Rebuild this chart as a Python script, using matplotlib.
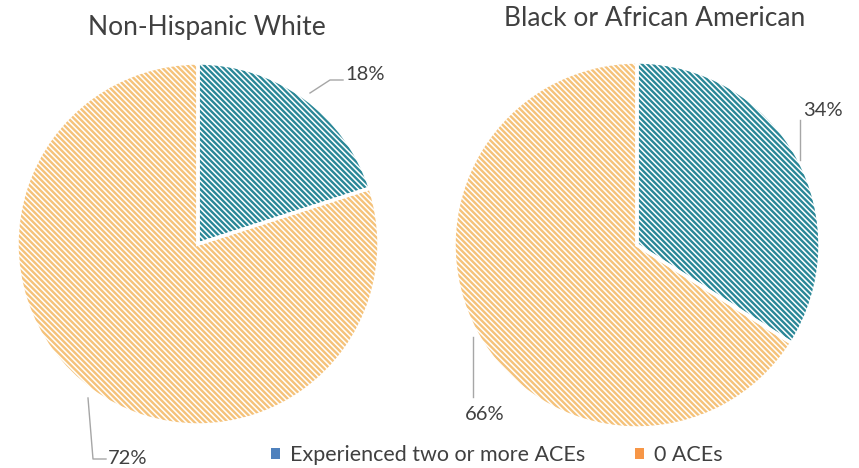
import matplotlib.pyplot as plt
from matplotlib.patches import Patch
from matplotlib.lines import Line2D

titles = ["Non-Hispanic White", "Black or African American"]
categories = ["Experienced two or more ACEs", "0 ACEs"]
white_vals = [18, 72]
black_vals = [34, 66]

hatch_cols = ["#2a8797", "#f5c27a"]
legend_cols = ["#4f81bd", "#f79646"]
text_col = "#404040"

plt.rcParams['font.family'] = ['Lato', 'DejaVu Sans']
plt.rcParams['hatch.linewidth'] = 1.7

W, H = 859, 468
fig = plt.figure(figsize=(W / 100, H / 100), dpi=100)


def px(x, y):
    return x / W, 1 - y / H


def draw_pie(cx, cy, r, vals, title, tx, ty):
    pad = 1.04
    size = 2 * r * pad
    ax = fig.add_axes([(cx - r * pad) / W, (H - cy - r * pad) / H, size / W, size / H])
    wedges, _ = ax.pie(vals, startangle=90, counterclock=False, radius=1,
                       colors=["white", "white"])
    for w, c in zip(wedges, hatch_cols):
        w.set_hatch("\\" * 6)
        w.set_edgecolor(c)
        w.set_linewidth(0)
    # white separators on top
    ax.pie(vals, startangle=90, counterclock=False, radius=1,
           wedgeprops=dict(fill=False, edgecolor="white", linewidth=2.5))
    ax.set_xlim(-pad, pad)
    ax.set_ylim(-pad, pad)
    ax.set_aspect("equal")
    ax.axis("off")
    fig.text(*px(tx, ty), title, ha="center", va="center", fontsize=19, color=text_col)


draw_pie(198, 244, 181, white_vals, titles[0], 207, 27)
draw_pie(637, 245, 183, black_vals, titles[1], 655, 19)

# data labels with leader lines
lbl_kw = dict(fontsize=14.5, color=text_col, va="center")
line_kw = dict(transform=fig.transFigure, color="#a6a6a6", lw=1)
fig.text(*px(345, 74), f"{white_vals[0]}%", ha="left", **lbl_kw)
fig.add_artist(Line2D([310 / W, 330 / W, 343 / W], [1 - 93 / H, 1 - 80 / H, 1 - 80 / H], **line_kw))
fig.text(*px(108, 458), f"{white_vals[1]}%", ha="left", **lbl_kw)
fig.add_artist(Line2D([88 / W, 93 / W, 106 / W], [1 - 398 / H, 1 - 459 / H, 1 - 459 / H], **line_kw))
fig.text(*px(823, 110), f"{black_vals[0]}%", ha="center", **lbl_kw)
fig.add_artist(Line2D([800 / W, 800 / W], [1 - 120 / H, 1 - 160 / H], **line_kw))
fig.text(*px(485, 414), f"{black_vals[1]}%", ha="center", **lbl_kw)
fig.add_artist(Line2D([473 / W, 473 / W], [1 - 337 / H, 1 - 397 / H], **line_kw))

handles = [Patch(facecolor=c, edgecolor="none") for c in legend_cols]
leg = fig.legend(handles, categories, loc="center", bbox_to_anchor=px(497, 455), ncol=2,
                 frameon=False, fontsize=15.5, handlelength=0.4, handleheight=0.4,
                 handletextpad=0.5, columnspacing=2.3, borderpad=0)
for t in leg.get_texts():
    t.set_color(text_col)

fig.savefig("out.png", dpi=100)
